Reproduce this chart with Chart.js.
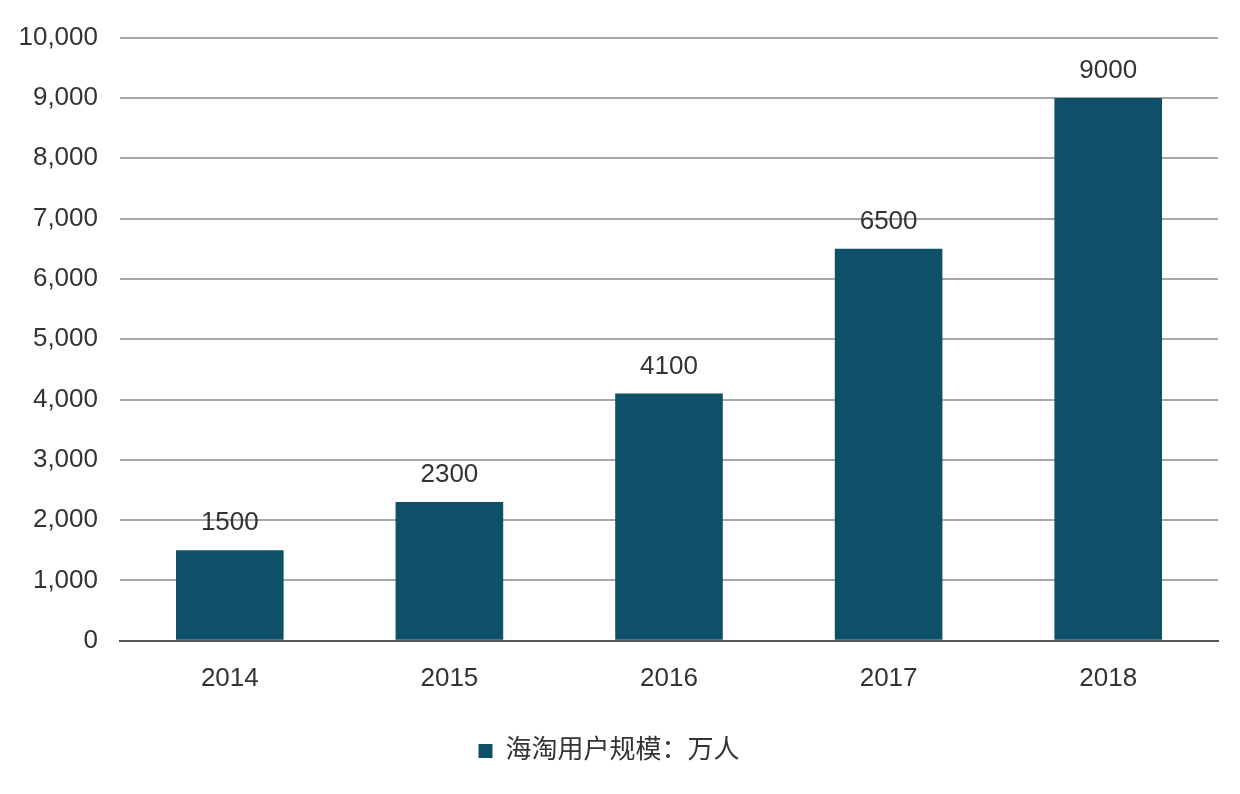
<!DOCTYPE html>
<html><head><meta charset="utf-8">
<script src="https://cdn.jsdelivr.net/npm/chart.js@4/dist/chart.umd.min.js"></script>
<style>html,body{margin:0;padding:0;background:#fff;}#w{width:1240px;height:794px;position:relative;}</style>
</head><body><div id="w"><canvas id="c"></canvas></div>
<script>
const categories = ["2014","2015","2016","2017","2018"];
const seriesName = "海淘用户规模：万人";
const values = [1500,2300,4100,6500,9000];
const font = "'Liberation Sans','Noto Sans CJK SC',sans-serif";
const labelPlugin = {
  id:'lbl',
  afterDatasetsDraw(chart){
    const ctx = chart.ctx;
    const meta = chart.getDatasetMeta(0);
    ctx.save();
    ctx.font = "26px " + font;
    ctx.fillStyle = "#333";
    ctx.textAlign = "center";
    ctx.textBaseline = "bottom";
    meta.data.forEach((el,i)=>{ ctx.fillText(String(values[i]), el.x, el.y - 14); });
    ctx.restore();
  }
};
new Chart(document.getElementById('c'),{
  type:'bar',
  data:{labels:categories,datasets:[{label:seriesName,data:values,backgroundColor:'#0d5068',barPercentage:0.98,categoryPercentage:0.5}]},
  options:{
    responsive:true,maintainAspectRatio:false,animation:false,
    layout:{padding:{left:0,right:22,top:18,bottom:20}},
    plugins:{
      legend:{position:'bottom',labels:{font:{size:26,family:font},color:'#333',boxWidth:14,boxHeight:14,padding:30}},
      tooltip:{enabled:false}
    },
    scales:{
      x:{grid:{display:false},border:{color:'#555',width:2},ticks:{font:{size:26,family:font},color:'#333',padding:14}},
      y:{min:0,max:10000,ticks:{stepSize:1000,font:{size:26,family:font},color:'#333',padding:22},
         grid:{color:'#a8a8a8',lineWidth:2,drawTicks:false},border:{display:false},
         afterFit(s){s.width=120;}}
    }
  },
  plugins:[labelPlugin]
});
</script></body></html>
